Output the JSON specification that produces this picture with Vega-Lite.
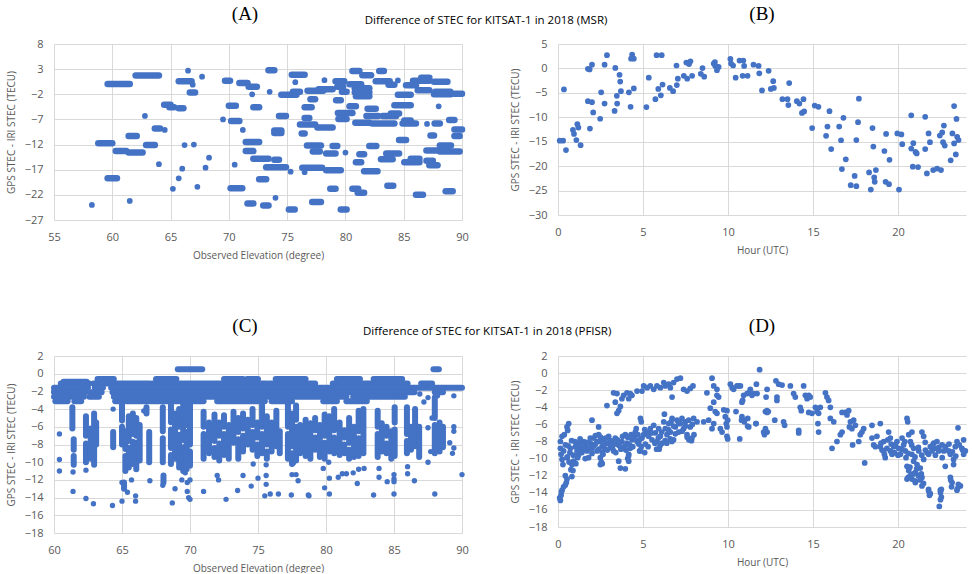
{
"$schema": "https://vega.github.io/schema/vega-lite/v6.json",
"padding": {"left": 6, "top": 5, "right": 0, "bottom": 0},
"background": "white",
"spacing": 57,
"config": {
  "view": {"stroke": null},
  "axis": {"labelFont": "Open Sans", "labelFontSize": 11, "labelColor": "#595959", "titleFont": "Open Sans", "titleFontSize": 10, "titleColor": "#595959", "titleFontWeight": "normal", "ticks": false, "domain": false, "gridColor": "#d9d9d9", "labelPadding": 11, "titlePadding": 8, "labelFlush": false},
  "title": {"color": "black"}
},
"datasets": {
"A_runs": [
{"x":58.8,"x2":60.0,"y":-11.75},{"x":59.6,"x2":61.5,"y":0.05},{"x":59.6,"x2":60.4,"y":-18.7},{"x":61.4,"x2":62.1,"y":-10.3},{"x":61.4,"x2":62.6,"y":-13.6},{"x":60.3,"x2":61.2,"y":-13.3},{"x":62.0,"x2":64.0,"y":1.74},{"x":62.9,"x2":63.65,"y":-12.1},{"x":63.65,"x2":64.1,"y":-8.8},{"x":64.45,"x2":65.0,"y":-4.1},{"x":64.9,"x2":65.3,"y":-4.6},{"x":65.7,"x2":66.1,"y":-4.8},{"x":65.7,"x2":66.8,"y":0.6},{"x":66.65,"x2":67.1,"y":-1.65},{"x":69.67,"x2":70.1,"y":0.7},{"x":70.0,"x2":70.6,"y":-4.3},{"x":70.2,"x2":70.9,"y":-7.3},{"x":70.15,"x2":71.15,"y":-20.7},{"x":70.9,"x2":71.6,"y":0.25},{"x":71.7,"x2":72.4,"y":-0.5},{"x":72.1,"x2":72.6,"y":-4.6},{"x":71.45,"x2":72.6,"y":-11.5},{"x":71.45,"x2":72.1,"y":-13.3},{"x":71.6,"x2":72.1,"y":-23.7},{"x":72.1,"x2":73.4,"y":-14.8},{"x":72.6,"x2":73.2,"y":-18.9},{"x":72.95,"x2":73.4,"y":-24.1},{"x":73.4,"x2":73.9,"y":2.8},{"x":73.2,"x2":74.9,"y":-16.5},{"x":73.9,"x2":74.3,"y":-15.0},{"x":73.9,"x2":74.5,"y":-9.2},{"x":73.9,"x2":74.5,"y":-9.7},{"x":74.3,"x2":74.9,"y":-6.3},{"x":74.5,"x2":75.8,"y":-2.1},{"x":75.15,"x2":75.65,"y":-24.9},{"x":75.4,"x2":76.5,"y":1.9},{"x":75.5,"x2":76.1,"y":-1.5},{"x":76.25,"x2":76.5,"y":-9.8},{"x":76.3,"x2":78.0,"y":-16.6},{"x":76.1,"x2":77.4,"y":-8.0},{"x":76.5,"x2":76.9,"y":-6.7},{"x":76.5,"x2":77.1,"y":-4.6},{"x":77.0,"x2":77.4,"y":-3.0},{"x":76.75,"x2":78.1,"y":-1.3},{"x":77.7,"x2":78.9,"y":-1.0},{"x":76.7,"x2":77.9,"y":-12.2},{"x":77.2,"x2":77.8,"y":-13.4},{"x":77.6,"x2":78.9,"y":-8.6},{"x":77.15,"x2":77.9,"y":-23.4},{"x":78.35,"x2":79.6,"y":-17.1},{"x":78.35,"x2":79.15,"y":-13.8},{"x":78.9,"x2":79.3,"y":-12.3},{"x":78.7,"x2":79.15,"y":-20.8},{"x":79.6,"x2":80.1,"y":-24.9},{"x":79.15,"x2":79.9,"y":0.6},{"x":79.3,"x2":79.8,"y":-0.5},{"x":79.7,"x2":80.1,"y":-1.5},{"x":79.2,"x2":79.6,"y":-3.2},{"x":79.35,"x2":80.6,"y":-5.7},{"x":80.35,"x2":80.9,"y":-4.4},{"x":79.4,"x2":80.1,"y":-6.9},{"x":80.35,"x2":81.35,"y":0.0},{"x":80.6,"x2":81.2,"y":2.65},{"x":80.85,"x2":82.05,"y":-7.65},{"x":80.6,"x2":81.1,"y":-20.8},{"x":81.05,"x2":81.6,"y":-21.6},{"x":80.9,"x2":81.35,"y":-15.5},{"x":81.2,"x2":81.6,"y":-13.9},{"x":80.8,"x2":82.05,"y":-0.8},{"x":80.8,"x2":82.05,"y":-1.6},{"x":80.9,"x2":82.05,"y":-2.4},{"x":81.45,"x2":82.2,"y":1.8},{"x":81.8,"x2":82.8,"y":-6.3},{"x":81.9,"x2":82.6,"y":-4.9},{"x":81.6,"x2":82.75,"y":-17.3},{"x":82.05,"x2":82.65,"y":-12.3},{"x":82.6,"x2":83.8,"y":0.6},{"x":82.9,"x2":83.3,"y":2.65},{"x":82.3,"x2":84.2,"y":-7.8},{"x":83.2,"x2":84.35,"y":-6.3},{"x":83.9,"x2":84.6,"y":-5.8},{"x":83.05,"x2":84.05,"y":-14.9},{"x":83.5,"x2":84.6,"y":-13.8},{"x":83.6,"x2":84.1,"y":-20.2},{"x":83.7,"x2":84.2,"y":-0.1},{"x":84.5,"x2":85.6,"y":-2.1},{"x":84.2,"x2":85.6,"y":-4.2},{"x":84.6,"x2":85.2,"y":-11.1},{"x":85.05,"x2":86.35,"y":-15.5},{"x":85.6,"x2":86.35,"y":-14.8},{"x":84.9,"x2":86.05,"y":-7.8},{"x":85.05,"x2":85.6,"y":-7.2},{"x":86.05,"x2":86.65,"y":-22.0},{"x":85.2,"x2":86.05,"y":-0.2},{"x":85.8,"x2":87.2,"y":0.7},{"x":86.5,"x2":87.2,"y":1.3},{"x":86.2,"x2":87.2,"y":-1.2},{"x":86.95,"x2":87.5,"y":-15.2},{"x":87.2,"x2":87.9,"y":-16.1},{"x":86.95,"x2":88.7,"y":-13.2},{"x":87.3,"x2":87.6,"y":-10.2},{"x":87.65,"x2":88.1,"y":-7.8},{"x":87.6,"x2":88.75,"y":0.5},{"x":87.6,"x2":89.05,"y":-2.0},{"x":87.7,"x2":89.0,"y":-1.5},{"x":88.1,"x2":89.05,"y":-12.2},{"x":88.1,"x2":89.8,"y":-13.4},{"x":88.6,"x2":89.2,"y":-21.3},{"x":89.35,"x2":90.0,"y":-1.9},{"x":88.9,"x2":89.35,"y":-7.1},{"x":89.35,"x2":90.0,"y":-9.0},{"x":89.35,"x2":89.8,"y":-10.3}
],
"A_pts": [
{"x":58.25,"y":-24.0},{"x":61.5,"y":-23.2},{"x":62.8,"y":-6.3},{"x":64.5,"y":-9.1},{"x":64.0,"y":-15.9},{"x":65.2,"y":-20.8},{"x":65.7,"y":-18.7},{"x":66.0,"y":-16.8},{"x":66.5,"y":2.7},{"x":66.9,"y":-0.1},{"x":66.2,"y":-12.1},{"x":67.0,"y":-12.0},{"x":67.3,"y":-20.4},{"x":67.7,"y":1.5},{"x":68.0,"y":-16.6},{"x":68.3,"y":-14.6},{"x":69.5,"y":-7.0},{"x":70.5,"y":-16.0},{"x":71.2,"y":-9.1},{"x":72.0,"y":-2.0},{"x":73.5,"y":-1.5},{"x":74.0,"y":-22.6},{"x":75.3,"y":-17.4},{"x":76.5,"y":-17.5},{"x":75.7,"y":0.4},{"x":78.2,"y":0.8},{"x":80.0,"y":-13.6},{"x":84.5,"y":0.75},{"x":87.0,"y":-7.9},{"x":88.0,"y":-4.4}
],
"B": [
{"x":0.1,"y":-14.8},{"x":0.3,"y":-14.8},{"x":0.35,"y":-4.3},{"x":0.47,"y":-16.7},{"x":0.88,"y":-12.6},{"x":0.94,"y":-13.4},{"x":1.08,"y":-14.65},{"x":1.14,"y":-11.4},{"x":1.2,"y":-12.1},{"x":1.33,"y":-15.7},{"x":1.76,"y":-0.07},{"x":1.86,"y":-0.2},{"x":2.0,"y":0.76},{"x":1.76,"y":-6.7},{"x":2.0,"y":-6.9},{"x":1.88,"y":-12.3},{"x":2.07,"y":-9.0},{"x":2.48,"y":-10.3},{"x":2.54,"y":-4.9},{"x":2.74,"y":0.76},{"x":2.88,"y":2.7},{"x":2.74,"y":-7.2},{"x":3.33,"y":-8.7},{"x":3.37,"y":0.1},{"x":3.46,"y":-5.6},{"x":3.48,"y":-7.2},{"x":3.62,"y":-1.3},{"x":3.66,"y":-2.7},{"x":3.7,"y":-4.65},{"x":4.17,"y":-4.9},{"x":4.27,"y":-7.85},{"x":4.3,"y":2.0},{"x":4.36,"y":2.85},{"x":4.46,"y":2.0},{"x":4.46,"y":-4.1},{"x":5.2,"y":-7.9},{"x":5.34,"y":-1.9},{"x":5.73,"y":-6.3},{"x":5.8,"y":2.7},{"x":5.9,"y":-4.2},{"x":6.05,"y":-5.5},{"x":6.1,"y":2.7},{"x":6.15,"y":-3.3},{"x":6.58,"y":-4.0},{"x":6.77,"y":-4.65},{"x":6.97,"y":0.6},{"x":6.99,"y":-3.4},{"x":7.05,"y":-2.1},{"x":7.4,"y":-1.5},{"x":7.55,"y":1.2},{"x":7.6,"y":-2.1},{"x":7.71,"y":0.9},{"x":7.79,"y":1.45},{"x":7.89,"y":-1.5},{"x":8.4,"y":-1.1},{"x":8.5,"y":0.07},{"x":8.6,"y":-1.7},{"x":9.16,"y":1.0},{"x":9.23,"y":1.3},{"x":9.25,"y":0.5},{"x":9.35,"y":-0.35},{"x":9.45,"y":0.3},{"x":10.14,"y":1.95},{"x":10.18,"y":1.0},{"x":10.3,"y":0.6},{"x":10.45,"y":-1.9},{"x":10.68,"y":1.6},{"x":10.9,"y":1.6},{"x":10.95,"y":0.5},{"x":10.86,"y":-1.5},{"x":11.15,"y":-1.5},{"x":11.5,"y":0.76},{"x":11.8,"y":0.5},{"x":11.84,"y":-1.0},{"x":12.0,"y":-4.5},{"x":12.39,"y":-0.5},{"x":12.52,"y":-4.2},{"x":12.66,"y":-2.6},{"x":12.7,"y":-4.0},{"x":13.2,"y":-6.3},{"x":13.5,"y":-6.3},{"x":13.55,"y":-7.5},{"x":13.6,"y":-3.0},{"x":14.05,"y":-6.7},{"x":14.2,"y":-7.2},{"x":14.35,"y":-9.1},{"x":14.44,"y":-6.3},{"x":14.48,"y":-8.8},{"x":14.95,"y":-12.2},{"x":15.1,"y":-7.6},{"x":15.32,"y":-7.85},{"x":15.77,"y":-13.8},{"x":15.85,"y":-11.9},{"x":15.97,"y":-8.75},{"x":16.07,"y":-16.5},{"x":16.54,"y":-11.9},{"x":16.65,"y":-14.7},{"x":16.7,"y":-20.6},{"x":16.79,"y":-10.1},{"x":16.93,"y":-18.6},{"x":17.22,"y":-23.9},{"x":17.45,"y":-22.0},{"x":17.55,"y":-24.1},{"x":17.55,"y":-14.65},{"x":17.65,"y":-11.0},{"x":17.7,"y":-6.2},{"x":18.3,"y":-21.3},{"x":18.4,"y":-24.8},{"x":18.5,"y":-12.2},{"x":18.55,"y":-16.0},{"x":18.6,"y":-22.3},{"x":18.63,"y":-23.2},{"x":18.7,"y":-20.8},{"x":19.2,"y":-16.9},{"x":19.3,"y":-13.4},{"x":19.27,"y":-23.2},{"x":19.47,"y":-23.7},{"x":19.5,"y":-18.7},{"x":19.96,"y":-13.3},{"x":20.06,"y":-24.8},{"x":20.2,"y":-13.5},{"x":20.25,"y":-15.5},{"x":20.78,"y":-9.6},{"x":20.78,"y":-16.4},{"x":20.87,"y":-20.1},{"x":20.9,"y":-15.3},{"x":21.03,"y":-17.1},{"x":21.1,"y":-17.4},{"x":21.18,"y":-20.2},{"x":21.6,"y":-9.9},{"x":21.6,"y":-16.5},{"x":21.7,"y":-21.5},{"x":21.8,"y":-13.3},{"x":21.88,"y":-15.1},{"x":22.07,"y":-20.8},{"x":22.3,"y":-20.5},{"x":22.53,"y":-20.8},{"x":22.46,"y":-13.75},{"x":22.6,"y":-13.1},{"x":22.7,"y":-11.7},{"x":22.65,"y":-15.1},{"x":22.75,"y":-15.8},{"x":23.1,"y":-18.8},{"x":23.2,"y":-13.3},{"x":23.3,"y":-7.7},{"x":23.3,"y":-15.35},{"x":23.4,"y":-17.6},{"x":23.44,"y":-10.35},{"x":23.48,"y":-14.0},{"x":23.56,"y":-14.65}
],
"C_runs": [
{"x":69.1,"x2":70.9,"y":0.5,"y2":0.5},{"x":87.9,"x2":88.3,"y":0.5,"y2":0.5},
{"x":60.7,"x2":62.4,"y":-0.9,"y2":-0.9},
{"x":63.2,"x2":64.4,"y":-0.6,"y2":-0.6},{"x":67.5,"x2":69.0,"y":-0.6,"y2":-0.6},{"x":72.5,"x2":73.9,"y":-0.6,"y2":-0.6},{"x":74.2,"x2":75.0,"y":-0.6,"y2":-0.6},{"x":76.3,"x2":78.5,"y":-0.6,"y2":-0.6},{"x":80.8,"x2":82.5,"y":-0.6,"y2":-0.6},{"x":83.5,"x2":85.6,"y":-0.6,"y2":-0.6},
{"x":60.5,"x2":62.6,"y":-1.1,"y2":-1.1},{"x":62.9,"x2":64.4,"y":-1.1,"y2":-1.1},{"x":64.6,"x2":67.0,"y":-1.1,"y2":-1.1},{"x":67.2,"x2":75.6,"y":-1.1,"y2":-1.1},{"x":75.8,"x2":79.2,"y":-1.1,"y2":-1.1},{"x":80.5,"x2":86.0,"y":-1.1,"y2":-1.1},{"x":87.0,"x2":87.8,"y":-1.1,"y2":-1.1},
{"x":60.0,"x2":62.5,"y":-1.6,"y2":-1.6},{"x":63.0,"x2":63.6,"y":-1.6,"y2":-1.6},{"x":64.2,"x2":90.0,"y":-1.6,"y2":-1.6},
{"x":60.0,"x2":62.3,"y":-2.1,"y2":-2.1},{"x":62.7,"x2":63.5,"y":-2.1,"y2":-2.1},{"x":64.3,"x2":86.5,"y":-2.1,"y2":-2.1},{"x":88.0,"x2":88.6,"y":-2.1,"y2":-2.1},
{"x":60.0,"x2":61.3,"y":-2.6,"y2":-2.6},{"x":61.6,"x2":62.2,"y":-2.6,"y2":-2.6},{"x":62.6,"x2":63.3,"y":-2.6,"y2":-2.6},{"x":64.4,"x2":81.5,"y":-2.6,"y2":-2.6},{"x":82.0,"x2":85.8,"y":-2.6,"y2":-2.6},
{"x":60.1,"x2":61.0,"y":-3.1,"y2":-3.1},{"x":61.5,"x2":62.0,"y":-3.1,"y2":-3.1},{"x":64.5,"x2":71.0,"y":-3.1,"y2":-3.1},{"x":72.0,"x2":75.5,"y":-3.1,"y2":-3.1},{"x":76.0,"x2":77.5,"y":-3.1,"y2":-3.1},{"x":79.8,"x2":80.8,"y":-3.1,"y2":-3.1},{"x":81.5,"x2":83.0,"y":-3.1,"y2":-3.1},
{"x":61.35,"x2":61.35,"y":-3.8,"y2":-6.2},{"x":61.45,"x2":61.45,"y":-7.4,"y2":-8.6},{"x":61.45,"x2":61.45,"y":-9.3,"y2":-10.3},
{"x":62.35,"x2":62.35,"y":-4.8,"y2":-7.0},{"x":62.35,"x2":62.35,"y":-7.9,"y2":-10.0},{"x":62.7,"x2":62.7,"y":-6.2,"y2":-9.6},{"x":62.95,"x2":62.95,"y":-4.5,"y2":-6.5},{"x":62.95,"x2":62.95,"y":-7.3,"y2":-10.3},{"x":63.1,"x2":63.1,"y":-5.5,"y2":-8.0},
{"x":64.35,"x2":64.35,"y":-6.6,"y2":-8.3},
{"x":65.0,"x2":65.0,"y":-3.5,"y2":-5.3},{"x":65.0,"x2":65.0,"y":-6.0,"y2":-8.0},{"x":65.25,"x2":65.25,"y":-6.5,"y2":-8.5},{"x":65.25,"x2":65.25,"y":-9.3,"y2":-11.0},{"x":65.5,"x2":65.5,"y":-4.8,"y2":-7.6},{"x":65.5,"x2":65.5,"y":-8.4,"y2":-10.6},{"x":65.8,"x2":65.8,"y":-4.5,"y2":-6.8},{"x":65.8,"x2":65.8,"y":-7.7,"y2":-10.2},{"x":66.05,"x2":66.05,"y":-5.0,"y2":-7.0},{"x":66.05,"x2":66.05,"y":-7.8,"y2":-10.8},{"x":66.3,"x2":66.3,"y":-5.8,"y2":-9.8},{"x":65.15,"x2":65.15,"y":-12.3,"y2":-13.0},
{"x":67.0,"x2":67.0,"y":-6.6,"y2":-10.0},{"x":66.8,"x2":66.8,"y":-3.8,"y2":-4.5},
{"x":68.0,"x2":68.0,"y":-3.8,"y2":-6.5},{"x":68.0,"x2":68.0,"y":-7.3,"y2":-10.0},{"x":68.05,"x2":68.05,"y":-11.5,"y2":-12.3},
{"x":68.6,"x2":68.6,"y":-3.5,"y2":-5.5},{"x":68.6,"x2":68.6,"y":-6.3,"y2":-8.4},{"x":68.6,"x2":68.6,"y":-9.2,"y2":-10.2},{"x":68.9,"x2":68.9,"y":-4.5,"y2":-9.6},{"x":69.2,"x2":69.2,"y":-4.0,"y2":-6.0},{"x":69.2,"x2":69.2,"y":-6.9,"y2":-10.6},{"x":69.5,"x2":69.5,"y":-3.3,"y2":-7.5},{"x":69.5,"x2":69.5,"y":-8.3,"y2":-11.0},{"x":69.75,"x2":69.75,"y":-3.3,"y2":-5.8},{"x":69.75,"x2":69.75,"y":-6.6,"y2":-10.8},{"x":70.0,"x2":70.0,"y":-3.3,"y2":-8.0},{"x":70.0,"x2":70.0,"y":-8.8,"y2":-10.4},
{"x":71.0,"x2":71.0,"y":-4.3,"y2":-6.0},{"x":71.0,"x2":71.0,"y":-6.8,"y2":-9.6},{"x":71.4,"x2":71.4,"y":-5.5,"y2":-9.0},
{"x":71.8,"x2":71.8,"y":-4.6,"y2":-7.6},{"x":71.8,"x2":71.8,"y":-8.4,"y2":-9.4},{"x":72.15,"x2":72.15,"y":-5.5,"y2":-7.0},{"x":72.15,"x2":72.15,"y":-7.9,"y2":-9.8},{"x":72.5,"x2":72.5,"y":-4.7,"y2":-6.0},{"x":72.5,"x2":72.5,"y":-6.8,"y2":-9.2},{"x":72.85,"x2":72.85,"y":-5.8,"y2":-9.6},{"x":73.2,"x2":73.2,"y":-4.3,"y2":-7.8},{"x":73.55,"x2":73.55,"y":-5.0,"y2":-6.6},{"x":73.55,"x2":73.55,"y":-7.4,"y2":-9.6},{"x":73.9,"x2":73.9,"y":-4.5,"y2":-6.2},{"x":73.9,"x2":73.9,"y":-7.0,"y2":-8.8},{"x":74.25,"x2":74.25,"y":-5.2,"y2":-8.0},{"x":74.6,"x2":74.6,"y":-4.0,"y2":-5.8},{"x":74.6,"x2":74.6,"y":-6.6,"y2":-8.6},{"x":74.95,"x2":74.95,"y":-5.5,"y2":-7.2},{"x":74.95,"x2":74.95,"y":-8.0,"y2":-9.3},
{"x":75.3,"x2":75.3,"y":-3.6,"y2":-6.0},{"x":75.3,"x2":75.3,"y":-6.8,"y2":-9.0},{"x":75.65,"x2":75.65,"y":-4.8,"y2":-8.0},{"x":75.65,"x2":75.65,"y":-8.8,"y2":-9.6},{"x":76.0,"x2":76.0,"y":-5.5,"y2":-8.8},{"x":76.35,"x2":76.35,"y":-4.2,"y2":-8.2},{"x":76.6,"x2":76.6,"y":-6.5,"y2":-9.0},
{"x":77.2,"x2":77.2,"y":-3.4,"y2":-6.0},{"x":77.2,"x2":77.2,"y":-6.8,"y2":-9.6},{"x":77.5,"x2":77.5,"y":-4.5,"y2":-8.2},{"x":77.5,"x2":77.5,"y":-9.0,"y2":-10.2},{"x":77.8,"x2":77.8,"y":-3.6,"y2":-5.2},{"x":77.8,"x2":77.8,"y":-6.0,"y2":-9.8},{"x":78.1,"x2":78.1,"y":-5.8,"y2":-9.0},
{"x":78.5,"x2":78.5,"y":-5.2,"y2":-9.3},{"x":78.85,"x2":78.85,"y":-5.6,"y2":-9.6},{"x":79.2,"x2":79.2,"y":-5.0,"y2":-6.4},{"x":79.2,"x2":79.2,"y":-7.2,"y2":-8.6},{"x":79.55,"x2":79.55,"y":-5.8,"y2":-9.4},{"x":79.9,"x2":79.9,"y":-4.6,"y2":-7.0},{"x":79.9,"x2":79.9,"y":-7.8,"y2":-9.6},{"x":80.25,"x2":80.25,"y":-4.8,"y2":-8.8},{"x":80.6,"x2":80.6,"y":-4.0,"y2":-6.4},{"x":80.6,"x2":80.6,"y":-7.2,"y2":-9.0},
{"x":81.0,"x2":81.0,"y":-5.5,"y2":-9.2},{"x":81.35,"x2":81.35,"y":-6.4,"y2":-7.2},{"x":81.35,"x2":81.35,"y":-8.0,"y2":-9.0},{"x":81.7,"x2":81.7,"y":-5.0,"y2":-7.8},{"x":81.7,"x2":81.7,"y":-8.6,"y2":-9.6},{"x":82.05,"x2":82.05,"y":-6.0,"y2":-9.4},{"x":82.4,"x2":82.4,"y":-4.2,"y2":-6.5},{"x":82.4,"x2":82.4,"y":-7.3,"y2":-9.3},{"x":82.75,"x2":82.75,"y":-4.0,"y2":-9.0},
{"x":83.8,"x2":83.8,"y":-4.2,"y2":-6.0},{"x":83.8,"x2":83.8,"y":-6.8,"y2":-9.4},{"x":84.1,"x2":84.1,"y":-5.6,"y2":-8.8},{"x":84.45,"x2":84.45,"y":-6.0,"y2":-7.0},{"x":84.45,"x2":84.45,"y":-7.9,"y2":-9.0},{"x":84.8,"x2":84.8,"y":-6.5,"y2":-9.6},{"x":85.05,"x2":85.05,"y":-3.8,"y2":-5.5},{"x":85.05,"x2":85.05,"y":-6.3,"y2":-9.3},
{"x":85.95,"x2":85.95,"y":-3.8,"y2":-6.8},{"x":85.95,"x2":85.95,"y":-7.6,"y2":-9.0},{"x":86.25,"x2":86.25,"y":-6.0,"y2":-8.6},{"x":86.55,"x2":86.55,"y":-4.0,"y2":-8.2},{"x":86.85,"x2":86.85,"y":-6.0,"y2":-9.4},
{"x":88.0,"x2":88.0,"y":-2.7,"y2":-5.0},{"x":88.0,"x2":88.0,"y":-5.8,"y2":-9.0},{"x":88.35,"x2":88.35,"y":-5.5,"y2":-8.8},{"x":88.6,"x2":88.6,"y":-6.0,"y2":-8.3}
],
"C_pts": [
{"x":60.4,"y":-6.8},{"x":60.4,"y":-9.7},{"x":60.4,"y":-11.0},{"x":61.4,"y":-11.1},{"x":61.4,"y":-13.3},{"x":62.35,"y":-10.9},{"x":62.35,"y":-14.1},{"x":62.9,"y":-14.7},{"x":64.35,"y":-4.0},{"x":64.3,"y":-14.9},{"x":65.0,"y":-12.3},{"x":65.4,"y":-13.4},{"x":66.0,"y":-13.8},{"x":66.0,"y":-14.4},{"x":65.0,"y":-14.4},{"x":65.7,"y":-12.0},{"x":67.05,"y":-12.1},{"x":66.6,"y":-4.2},{"x":68.0,"y":-12.6},{"x":68.7,"y":-14.6},{"x":68.9,"y":-13.0},{"x":69.4,"y":-12.0},{"x":69.65,"y":-11.2},{"x":69.8,"y":-12.3},{"x":69.8,"y":-13.3},{"x":69.9,"y":-14.0},{"x":70.0,"y":-14.2},{"x":70.0,"y":-12.0},{"x":71.0,"y":-13.3},{"x":72.0,"y":-11.5},{"x":72.1,"y":-12.0},{"x":72.65,"y":-14.2},{"x":73.5,"y":-13.2},{"x":73.9,"y":-11.5},{"x":74.5,"y":-12.7},{"x":74.65,"y":-10.2},{"x":75.0,"y":-11.8},{"x":75.6,"y":-11.5},{"x":75.6,"y":-12.5},{"x":75.5,"y":-13.8},{"x":75.9,"y":-13.6},{"x":76.5,"y":-13.6},{"x":75.6,"y":-10.3},{"x":77.5,"y":-11.4},{"x":77.8,"y":-11.4},{"x":77.95,"y":-12.1},{"x":77.45,"y":-13.7},{"x":78.7,"y":-13.7},{"x":78.75,"y":-13.8},{"x":77.6,"y":-10.1},{"x":79.8,"y":-10.7},{"x":79.9,"y":-12.9},{"x":80.2,"y":-10.0},{"x":80.25,"y":-11.8},{"x":80.25,"y":-13.6},{"x":80.9,"y":-11.7},{"x":81.2,"y":-11.3},{"x":81.5,"y":-11.3},{"x":82.0,"y":-11.2},{"x":82.4,"y":-10.8},{"x":82.8,"y":-10.7},{"x":82.3,"y":-12.4},{"x":83.5,"y":-13.7},{"x":83.9,"y":-10.7},{"x":83.9,"y":-11.7},{"x":84.5,"y":-12.2},{"x":85.0,"y":-11.4},{"x":85.0,"y":-11.9},{"x":85.0,"y":-12.2},{"x":85.0,"y":-13.6},{"x":86.0,"y":-10.5},{"x":86.0,"y":-11.3},{"x":86.5,"y":-12.1},{"x":87.5,"y":-10.0},{"x":87.5,"y":-6.1},{"x":88.0,"y":-13.6},{"x":89.4,"y":-2.5},{"x":89.4,"y":-6.0},{"x":89.4,"y":-6.5},{"x":89.4,"y":-8.4},{"x":90.0,"y":-11.4},{"x":89.1,"y":-7.8},{"x":89.3,"y":-9.0},{"x":88.5,"y":-7.5},{"x":87.7,"y":-8.8},{"x":87.8,"y":-5.0},{"x":87.5,"y":-2.7},{"x":88.2,"y":-2.5},{"x":86.9,"y":-2.3},{"x":87.2,"y":-3.2},{"x":60.0,"y":-1.9},{"x":60.3,"y":-2.9}
],
"D": [
{"x":0.14,"y":-14.9},{"x":0.18,"y":-14.3},{"x":0.24,"y":-13.7},{"x":0.33,"y":-13.3},{"x":0.43,"y":-13.1},{"x":0.49,"y":-12.8},{"x":0.53,"y":-12.4},{"x":0.43,"y":-12.0},{"x":0.82,"y":-12.1},{"x":0.76,"y":-11.3},{"x":0.82,"y":-10.7},{"x":0.92,"y":-10.3},{"x":0.88,"y":-11.4},{"x":0.14,"y":-8.8},{"x":0.18,"y":-9.5},{"x":0.24,"y":-10.1},{"x":0.29,"y":-10.7},{"x":0.14,"y":-8.0},{"x":0.24,"y":-7.4},{"x":0.37,"y":-7.2},{"x":0.53,"y":-6.3},{"x":0.63,"y":-5.9},{"x":0.57,"y":-6.7},{"x":0.43,"y":-8.4},{"x":0.33,"y":-9.1},{"x":0.73,"y":-8.8},{"x":0.53,"y":-9.9},{"x":0.1,"y":-14.6},{"x":0.2,"y":-13.9},
{"x":1.02,"y":-8.6},{"x":1.12,"y":-9.1},{"x":1.22,"y":-8.2},{"x":1.31,"y":-8.8},{"x":1.41,"y":-9.3},{"x":1.51,"y":-8.0},{"x":1.61,"y":-8.6},{"x":1.71,"y":-9.1},{"x":1.8,"y":-9.9},{"x":1.9,"y":-8.2},{"x":2.0,"y":-8.8},{"x":2.1,"y":-7.6},{"x":2.2,"y":-8.3},{"x":2.29,"y":-9.1},{"x":2.39,"y":-7.2},{"x":2.39,"y":-6.3},{"x":2.45,"y":-8.0},{"x":2.49,"y":-9.9},{"x":2.49,"y":-10.7},{"x":2.59,"y":-8.6},{"x":2.69,"y":-7.8},{"x":2.78,"y":-8.9},{"x":2.88,"y":-8.2},{"x":2.98,"y":-7.4},{"x":3.08,"y":-8.6},{"x":3.18,"y":-8.0},{"x":3.27,"y":-9.1},{"x":3.37,"y":-7.6},{"x":3.47,"y":-8.3},{"x":3.57,"y":-10.3},{"x":3.67,"y":-11.1},{"x":3.96,"y":-11.2},{"x":3.76,"y":-8.0},{"x":3.86,"y":-8.8},{"x":3.96,"y":-7.2},{"x":4.06,"y":-8.2},{"x":4.16,"y":-9.5},{"x":4.16,"y":-10.3},{"x":4.25,"y":-8.8},{"x":4.35,"y":-7.8},{"x":4.45,"y":-7.4},{"x":4.55,"y":-6.9},{"x":4.65,"y":-8.0},{"x":4.75,"y":-8.3},{"x":4.84,"y":-9.1},{"x":2.0,"y":-5.5},{"x":4.85,"y":-5.3},{"x":4.9,"y":-5.7},{"x":4.8,"y":-9.1},{"x":5.1,"y":-9.3},
{"x":0.6,"y":-8.5},{"x":0.7,"y":-9.3},{"x":0.8,"y":-7.9},{"x":0.9,"y":-9.6},{"x":1.0,"y":-8.0},{"x":1.1,"y":-8.4},{"x":1.2,"y":-9.6},{"x":1.3,"y":-7.7},{"x":1.4,"y":-8.3},{"x":1.5,"y":-9.0},{"x":1.6,"y":-10.0},{"x":1.7,"y":-8.1},{"x":1.8,"y":-8.8},{"x":1.9,"y":-7.6},{"x":2.0,"y":-9.4},{"x":2.1,"y":-8.5},{"x":2.2,"y":-7.3},{"x":2.3,"y":-8.0},{"x":2.4,"y":-8.9},{"x":2.5,"y":-7.5},{"x":2.6,"y":-9.3},{"x":2.7,"y":-8.4},{"x":2.8,"y":-7.6},{"x":2.9,"y":-9.0},{"x":3.0,"y":-8.2},{"x":3.1,"y":-7.9},{"x":3.2,"y":-8.8},{"x":3.3,"y":-8.3},{"x":3.4,"y":-9.3},{"x":3.5,"y":-7.8},{"x":3.6,"y":-8.5},{"x":3.7,"y":-8.9},{"x":3.8,"y":-7.4},{"x":3.9,"y":-8.6},{"x":4.0,"y":-9.0},{"x":4.1,"y":-7.5},{"x":4.2,"y":-8.4},{"x":4.3,"y":-7.2},{"x":4.4,"y":-8.6},{"x":4.5,"y":-7.6},{"x":4.6,"y":-6.5},{"x":4.7,"y":-7.2},{"x":4.8,"y":-7.8},{"x":4.9,"y":-8.6},{"x":0.55,"y":-9.8},{"x":0.65,"y":-10.4},{"x":1.05,"y":-10.6},{"x":1.15,"y":-9.9},{"x":2.55,"y":-10.4},{"x":2.6,"y":-10.6},{"x":2.65,"y":-9.5},{"x":4.1,"y":-10.0},{"x":4.15,"y":-9.7},
{"x":4.94,"y":-7.6},{"x":5.04,"y":-7.2},{"x":5.14,"y":-8.3},{"x":5.24,"y":-6.9},{"x":5.33,"y":-7.4},{"x":5.43,"y":-6.5},{"x":5.53,"y":-7.8},{"x":5.63,"y":-6.1},{"x":5.73,"y":-7.0},{"x":5.82,"y":-8.0},{"x":5.92,"y":-6.5},{"x":6.02,"y":-7.4},{"x":6.12,"y":-8.2},{"x":6.22,"y":-5.7},{"x":6.31,"y":-6.5},{"x":6.41,"y":-7.2},{"x":6.51,"y":-5.9},{"x":6.61,"y":-6.9},{"x":6.71,"y":-5.3},{"x":6.8,"y":-7.8},{"x":6.9,"y":-6.3},{"x":7.0,"y":-5.5},{"x":7.1,"y":-6.9},{"x":7.2,"y":-5.9},{"x":7.29,"y":-5.3},{"x":7.39,"y":-6.5},{"x":7.49,"y":-5.7},{"x":7.59,"y":-7.2},{"x":7.69,"y":-5.5},{"x":7.78,"y":-6.3},{"x":7.88,"y":-7.6},{"x":7.98,"y":-5.3},{"x":6.26,"y":-4.8},{"x":6.65,"y":-5.7},
{"x":5.1,"y":-6.6},{"x":5.3,"y":-8.6},{"x":5.5,"y":-7.0},{"x":5.7,"y":-8.2},{"x":5.9,"y":-7.6},{"x":6.0,"y":-8.5},{"x":6.1,"y":-6.9},{"x":6.3,"y":-7.9},{"x":6.5,"y":-6.6},{"x":6.6,"y":-7.7},{"x":6.8,"y":-6.2},{"x":6.9,"y":-7.1},{"x":7.1,"y":-5.9},{"x":7.3,"y":-6.8},{"x":7.5,"y":-6.2},{"x":7.7,"y":-7.8},{"x":7.9,"y":-6.0},{"x":8.0,"y":-7.2},{"x":6.4,"y":-8.2},{"x":6.7,"y":-8.0},{"x":5.8,"y":-8.9},{"x":5.95,"y":-8.9},{"x":7.6,"y":-7.5},{"x":7.85,"y":-7.9},
{"x":3.27,"y":-2.3},{"x":3.47,"y":-2.4},{"x":3.37,"y":-3.4},{"x":3.47,"y":-4.7},{"x":3.67,"y":-3.9},{"x":3.76,"y":-3.0},{"x":3.86,"y":-2.6},{"x":4.06,"y":-2.3},{"x":4.16,"y":-3.0},{"x":4.25,"y":-2.4},{"x":2.88,"y":-3.8},{"x":3.57,"y":-4.4},{"x":4.35,"y":-2.6},{"x":4.65,"y":-2.1},{"x":4.94,"y":-2.1},{"x":5.04,"y":-1.5},{"x":5.24,"y":-1.7},{"x":5.43,"y":-1.5},{"x":5.63,"y":-1.9},{"x":5.82,"y":-1.5},{"x":6.02,"y":-1.7},{"x":6.22,"y":-1.1},{"x":6.31,"y":-1.5},{"x":6.51,"y":-1.3},{"x":6.61,"y":-1.7},{"x":6.71,"y":-2.8},{"x":6.8,"y":-1.1},{"x":7.0,"y":-0.7},{"x":7.2,"y":-0.6},{"x":7.39,"y":-1.9},{"x":7.59,"y":-2.1},{"x":7.78,"y":-1.8},{"x":7.94,"y":-1.5},
{"x":8.18,"y":-5.7},{"x":8.57,"y":-5.7},{"x":8.86,"y":-5.5},{"x":9.06,"y":-6.5},{"x":9.16,"y":-5.9},{"x":9.25,"y":-4.5},{"x":9.35,"y":-4.7},{"x":8.96,"y":-4.1},{"x":9.16,"y":-3.4},{"x":9.35,"y":-2.6},{"x":9.45,"y":-2.8},{"x":9.55,"y":-6.5},{"x":9.65,"y":-6.9},{"x":9.75,"y":-4.3},{"x":9.84,"y":-5.1},{"x":9.9,"y":-5.9},{"x":9.94,"y":-6.3},{"x":9.94,"y":-7.4},{"x":9.98,"y":-7.7},
{"x":8.76,"y":-2.3},{"x":9.06,"y":-0.6},{"x":9.16,"y":-1.5},{"x":9.35,"y":-1.9},{"x":10.14,"y":-1.3},{"x":10.24,"y":-1.7},{"x":10.33,"y":-1.9},{"x":10.53,"y":-1.5},{"x":10.63,"y":-1.5},{"x":10.73,"y":-1.5},{"x":10.82,"y":-3.4},{"x":10.92,"y":-2.6},{"x":11.12,"y":-2.4},{"x":11.22,"y":-2.3},{"x":11.31,"y":-1.9},{"x":11.41,"y":-2.6},{"x":11.51,"y":-2.4},{"x":11.67,"y":-1.3},{"x":11.71,"y":-2.4},{"x":11.86,"y":0.4},{"x":10.69,"y":-7.7},{"x":10.82,"y":-5.1},{"x":10.92,"y":-5.5},{"x":11.16,"y":-5.3},{"x":11.22,"y":-6.3},{"x":11.65,"y":-5.9},{"x":12.1,"y":-6.9},{"x":12.2,"y":-6.5},{"x":12.14,"y":-7.2},{"x":12.2,"y":-4.5},{"x":9.94,"y":-4.4},{"x":9.98,"y":-5.5},{"x":10.47,"y":-4.5},{"x":10.8,"y":-5.5},{"x":10.96,"y":-5.7},{"x":11.15,"y":-6.2},{"x":10.86,"y":-3.2},{"x":11.64,"y":-5.9},{"x":12.29,"y":-4.4},{"x":12.37,"y":-4.5},
{"x":12.3,"y":-1.9},{"x":12.24,"y":-2.8},{"x":12.3,"y":-4.6},{"x":12.3,"y":-6.9},{"x":12.75,"y":-5.5},{"x":12.82,"y":-0.9},{"x":12.98,"y":-1.3},{"x":13.18,"y":-1.4},{"x":12.88,"y":-2.8},{"x":12.88,"y":-3.2},{"x":13.27,"y":-5.7},{"x":13.33,"y":-6.1},{"x":13.67,"y":-1.5},{"x":13.86,"y":-2.4},{"x":13.96,"y":-2.8},{"x":14.16,"y":-7.0},{"x":14.16,"y":-6.7},{"x":14.25,"y":-4.0},{"x":14.31,"y":-4.4},{"x":14.45,"y":-1.5},{"x":14.55,"y":-2.6},{"x":14.75,"y":-2.6},{"x":14.84,"y":-2.8},{"x":14.65,"y":-3.0},{"x":14.75,"y":-4.6},{"x":14.94,"y":-4.7},{"x":15.14,"y":-4.0},{"x":15.24,"y":-4.5},{"x":15.33,"y":-4.7},{"x":15.29,"y":-5.9},{"x":15.33,"y":-6.9},{"x":15.43,"y":-4.0},{"x":15.73,"y":-2.3},{"x":15.82,"y":-2.8},{"x":15.92,"y":-3.2},{"x":16.02,"y":-4.0},{"x":16.02,"y":-5.3},{"x":16.22,"y":-5.7},{"x":16.12,"y":-8.8},{"x":16.41,"y":-8.0},{"x":16.61,"y":-7.2},{"x":16.71,"y":-6.9},{"x":16.71,"y":-4.6},{"x":16.9,"y":-4.6},{"x":17.1,"y":-4.4},{"x":17.0,"y":-4.9},{"x":17.2,"y":-5.7},{"x":17.14,"y":-6.3},{"x":17.29,"y":-6.5},{"x":17.39,"y":-5.5},{"x":17.49,"y":-6.1},{"x":17.33,"y":-8.4},{"x":17.69,"y":-8.0},{"x":17.78,"y":-7.2},{"x":17.88,"y":-6.9},{"x":17.98,"y":-6.5},{"x":18.04,"y":-10.5},{"x":18.47,"y":-6.1},{"x":18.47,"y":-7.6},{"x":18.76,"y":-7.4},{"x":18.96,"y":-5.9},{"x":18.96,"y":-8.6},{"x":18.67,"y":-8.6},{"x":18.57,"y":-8.4},{"x":19.06,"y":-9.0},{"x":19.16,"y":-9.1},{"x":19.25,"y":-9.9},{"x":19.16,"y":-8.0},{"x":19.45,"y":-6.9},{"x":19.55,"y":-7.6},{"x":19.35,"y":-8.8},{"x":19.55,"y":-9.1},{"x":19.75,"y":-8.6},{"x":19.65,"y":-9.5},{"x":19.84,"y":-8.4},{"x":20.04,"y":-8.8},{"x":19.94,"y":-8.0},{"x":20.14,"y":-9.5},{"x":20.24,"y":-7.6},{"x":20.33,"y":-8.4},{"x":20.43,"y":-9.1},{"x":20.53,"y":-5.3},{"x":20.57,"y":-5.7},{"x":20.47,"y":-9.9},{"x":20.53,"y":-10.9},{"x":20.63,"y":-11.4},{"x":20.53,"y":-12.4},{"x":20.63,"y":-7.2},{"x":20.73,"y":-8.0},{"x":20.82,"y":-6.9},{"x":20.92,"y":-8.8},{"x":20.82,"y":-9.5},{"x":20.92,"y":-10.3},{"x":20.73,"y":-12.0},{"x":20.82,"y":-12.4},{"x":21.02,"y":-11.6},{"x":21.02,"y":-12.8},{"x":21.12,"y":-10.7},{"x":21.22,"y":-9.1},{"x":21.31,"y":-11.1},{"x":21.37,"y":-11.8},{"x":21.41,"y":-6.9},{"x":21.41,"y":-12.2},{"x":21.51,"y":-7.4},{"x":21.51,"y":-10.1},{"x":21.61,"y":-9.0},{"x":21.71,"y":-9.3},{"x":21.41,"y":-13.2},{"x":21.8,"y":-13.6},{"x":21.9,"y":-14.1},{"x":21.9,"y":-8.6},{"x":22.0,"y":-9.1},{"x":22.1,"y":-8.2},{"x":22.2,"y":-8.8},{"x":22.29,"y":-8.0},{"x":22.39,"y":-9.1},{"x":22.49,"y":-13.7},{"x":22.55,"y":-14.5},{"x":22.43,"y":-15.6},{"x":22.59,"y":-8.4},{"x":22.69,"y":-9.1},{"x":22.78,"y":-10.9},{"x":22.98,"y":-9.1},{"x":23.08,"y":-9.5},{"x":23.08,"y":-12.2},{"x":23.18,"y":-12.8},{"x":23.27,"y":-10.1},{"x":23.27,"y":-10.7},{"x":23.37,"y":-8.6},{"x":23.47,"y":-8.0},{"x":23.53,"y":-6.4},{"x":23.47,"y":-13.7},{"x":23.67,"y":-13.2},{"x":23.76,"y":-8.8},{"x":23.86,"y":-7.8},{"x":23.86,"y":-9.5},{"x":23.96,"y":-9.1},
{"x":19.0,"y":-8.2},{"x":19.2,"y":-9.5},{"x":19.4,"y":-7.8},{"x":19.6,"y":-8.3},{"x":19.8,"y":-9.3},{"x":20.0,"y":-9.6},{"x":20.2,"y":-8.9},{"x":20.4,"y":-8.0},{"x":20.6,"y":-9.4},{"x":20.8,"y":-8.4},{"x":21.0,"y":-9.8},{"x":21.2,"y":-8.7},{"x":21.4,"y":-9.6},{"x":21.6,"y":-8.1},{"x":21.8,"y":-9.5},{"x":22.0,"y":-8.5},{"x":22.2,"y":-9.6},{"x":22.4,"y":-8.7},{"x":22.6,"y":-9.9},{"x":22.8,"y":-8.6},{"x":23.0,"y":-8.3},{"x":23.2,"y":-9.2},{"x":23.4,"y":-9.7},{"x":23.6,"y":-8.4},{"x":23.8,"y":-9.0},{"x":21.1,"y":-11.2},{"x":21.2,"y":-12.0},{"x":21.3,"y":-12.5},{"x":20.9,"y":-11.8},{"x":21.0,"y":-12.6},{"x":22.5,"y":-14.0},{"x":22.5,"y":-14.8},{"x":22.55,"y":-13.6},{"x":21.8,"y":-13.8},{"x":21.85,"y":-14.3},{"x":23.1,"y":-12.5},{"x":23.15,"y":-13.3},{"x":23.5,"y":-13.5},{"x":23.55,"y":-13.0},{"x":20.6,"y":-12.2},{"x":20.7,"y":-11.0},{"x":21.5,"y":-12.9}
]
},
"vconcat": [
{
  "title": {"text": "Difference of STEC for KITSAT-1 in 2018 (MSR)", "font": "Open Sans", "fontSize": 11.5, "fontWeight": "normal", "anchor": "middle", "frame": "bounds", "offset": -18, "dy": 3},
  "spacing": 41,
  "hconcat": [
    {
      "width": 408, "height": 176,
      "title": {"text": "(A)", "font": "Liberation Serif", "fontSize": 19, "fontWeight": "normal", "anchor": "middle", "frame": "group", "dx": -13, "offset": 14},
      "encoding": {
        "x": {"field": "x", "type": "quantitative", "scale": {"domain": [55, 90], "nice": false, "zero": false}, "axis": {"values": [55, 60, 65, 70, 75, 80, 85, 90], "title": "Observed Elevation (degree)"}},
        "y": {"field": "y", "type": "quantitative", "scale": {"domain": [-27, 8], "nice": false, "zero": false}, "axis": {"values": [-27, -22, -17, -12, -7, -2, 3, 8], "title": "GPS STEC - IRI STEC (TECU)"}}
      },
      "layer": [
        {"data": {"name": "A_runs"}, "mark": {"type": "rule", "color": "#4472C4", "strokeWidth": 6.5, "strokeCap": "round"}, "encoding": {"x2": {"field": "x2"}}},
        {"data": {"name": "A_pts"}, "mark": {"type": "circle", "color": "#4472C4", "size": 33, "opacity": 1}, "encoding": {}}
      ]
    },
    {
      "width": 408, "height": 171,
      "title": {"text": "(B)", "font": "Liberation Serif", "fontSize": 19, "fontWeight": "normal", "anchor": "middle", "frame": "group", "offset": 14},
      "data": {"name": "B"},
      "mark": {"type": "circle", "color": "#4472C4", "size": 33, "opacity": 1},
      "encoding": {
        "x": {"field": "x", "type": "quantitative", "scale": {"domain": [0, 24], "nice": false, "zero": false}, "axis": {"values": [0, 5, 10, 15, 20], "title": "Hour (UTC)"}},
        "y": {"field": "y", "type": "quantitative", "scale": {"domain": [-30, 5], "nice": false, "zero": false}, "axis": {"values": [-30, -25, -20, -15, -10, -5, 0, 5], "title": "GPS STEC - IRI STEC (TECU)"}}
      }
    }
  ]
},
{
  "title": {"text": "Difference of STEC for KITSAT-1 in 2018 (PFISR)", "font": "Open Sans", "fontSize": 11.5, "fontWeight": "normal", "anchor": "middle", "frame": "bounds", "offset": -18, "dy": 2},
  "spacing": 41,
  "hconcat": [
    {
      "width": 408, "height": 177,
      "title": {"text": "(C)", "font": "Liberation Serif", "fontSize": 19, "fontWeight": "normal", "anchor": "middle", "frame": "group", "dx": -13, "offset": 14},
      "encoding": {
        "x": {"field": "x", "type": "quantitative", "scale": {"domain": [60, 90], "nice": false, "zero": false}, "axis": {"values": [60, 65, 70, 75, 80, 85, 90], "title": "Observed Elevation (degree)"}},
        "y": {"field": "y", "type": "quantitative", "scale": {"domain": [-18, 2], "nice": false, "zero": false}, "axis": {"values": [-18, -16, -14, -12, -10, -8, -6, -4, -2, 0, 2], "title": "GPS STEC - IRI STEC (TECU)"}}
      },
      "layer": [
        {"data": {"name": "C_runs"}, "mark": {"type": "rule", "color": "#4472C4", "strokeWidth": 6, "strokeCap": "round"}, "encoding": {"x2": {"field": "x2"}, "y2": {"field": "y2"}}},
        {"data": {"name": "C_pts"}, "mark": {"type": "circle", "color": "#4472C4", "size": 29, "opacity": 1}, "encoding": {}}
      ]
    },
    {
      "width": 408, "height": 171,
      "title": {"text": "(D)", "font": "Liberation Serif", "fontSize": 19, "fontWeight": "normal", "anchor": "middle", "frame": "group", "offset": 14},
      "data": {"name": "D"},
      "mark": {"type": "circle", "color": "#4472C4", "size": 33, "opacity": 1},
      "encoding": {
        "x": {"field": "x", "type": "quantitative", "scale": {"domain": [0, 24], "nice": false, "zero": false}, "axis": {"values": [0, 5, 10, 15, 20], "title": "Hour (UTC)"}},
        "y": {"field": "y", "type": "quantitative", "scale": {"domain": [-18, 2], "nice": false, "zero": false}, "axis": {"values": [-18, -16, -14, -12, -10, -8, -6, -4, -2, 0, 2], "title": "GPS STEC - IRI STEC (TECU)"}}
      }
    }
  ]
}
]
}
